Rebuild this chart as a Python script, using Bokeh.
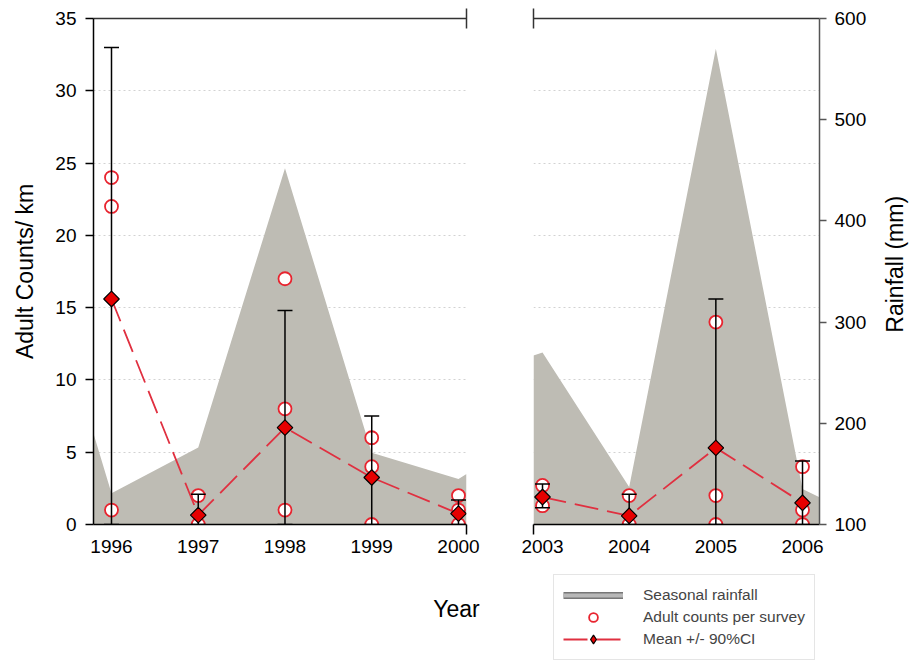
import numpy as np
from bokeh.plotting import figure
from bokeh.models import (Range1d, LinearAxis, FixedTicker, Grid, Legend,
                          LegendItem, Label)
from bokeh.layouts import row, column
from bokeh.embed import file_html
from bokeh.resources import INLINE

# ---------------- data ----------------
count_ticks = [0, 5, 10, 15, 20, 25, 30, 35]
grid_ticks = [5, 10, 15, 20, 25, 30]
rain_ticks = [100, 200, 300, 400, 500, 600]

# period 1 (1996-2000)
years_a = [1996, 1997, 1998, 1999, 2000]
mean_a = [15.6, 0.65, 6.7, 3.25, 0.75]
ci_lo_a = [0, 0, 0, 0, 0]
ci_hi_a = [33.0, 2.1, 14.8, 7.5, 1.7]
survey_year_a = [1996, 1996, 1996, 1997, 1997, 1998, 1998, 1998, 1999, 1999, 1999, 2000, 2000, 2000]
survey_count_a = [24, 22, 1, 2, 0, 17, 8, 1, 6, 4, 0, 2, 1, 0]
rain_year_a = [1995.7925, 1996, 1997, 1998, 1999, 2000, 2000.0925]
rain_mm_a = [190, 131, 176, 452, 171, 145, 150]

# period 2 (2003-2006)
years_b = [2003, 2004, 2005, 2006]
mean_b = [1.9, 0.6, 5.3, 1.5]
ci_lo_b = [1.15, 0, 0, 0]
ci_hi_b = [2.8, 2.1, 15.6, 4.4]
survey_year_b = [2003, 2003, 2004, 2004, 2005, 2005, 2005, 2006, 2006, 2006]
survey_count_b = [2.7, 1.3, 2, 0, 14, 2, 0, 4, 1, 0]
rain_year_b = [2002.896, 2003, 2004, 2005, 2006, 2006.196]
rain_mm_b = [267, 270, 137, 570, 135, 127]

legend_labels = ["Seasonal rainfall", "Adult counts per survey", "Mean +/- 90%CI"]

# ---------------- style ----------------
FONT = "Liberation Sans"
GREY = "#bebcb4"
RED_C = "#e8242f"
RED_L = "#e03040"
RED_D = "#e60000"
TICK_FS = "19px"
LABEL_FS = "23px"
H_TOP = 560
TOP = 18
BOTTOM = 36
CIRC = dict(marker="circle", size=13, fill_color="white", line_color=RED_C, line_width=1.8)
MLINE = dict(line_color=RED_L, line_width=1.8, line_dash="24 9")
DIAM = dict(marker="square", angle=np.pi / 4, size=11, fill_color=RED_D,
            line_color="black", line_width=1.2)
NAN = [np.nan]


def blank(width, height, xr, yr):
    p = figure(width=width, height=height, x_range=Range1d(*xr), y_range=Range1d(*yr),
               output_backend="svg", toolbar_location=None,
               x_axis_location=None, y_axis_location=None,
               min_border_left=0, min_border_right=0,
               min_border_top=0, min_border_bottom=0)
    p.grid.visible = False
    p.outline_line_color = None
    return p


def make_panel(width, xr, bl, br, years, mean, lo, hi, sy, sc, ry, rm, edge):
    p = figure(width=width, height=H_TOP, x_range=Range1d(*xr), y_range=Range1d(0, 35),
               output_backend="svg", toolbar_location=None,
               x_axis_location=None, y_axis_location=None,
               min_border_left=bl, min_border_right=br,
               min_border_top=TOP, min_border_bottom=BOTTOM)
    p.grid.visible = False
    p.outline_line_color = None
    p.background_fill_color = "white"
    p.extra_y_ranges = {"rain": Range1d(100, 600)}
    p.add_layout(Grid(dimension=1, ticker=FixedTicker(ticks=grid_ticks),
                      grid_line_color="#d2d2d2", grid_line_dash="2 3",
                      grid_line_width=1))

    # bottom axis: year labels, single break tick
    xb = LinearAxis(ticker=FixedTicker(ticks=years, minor_ticks=[edge]),
                    major_tick_out=0, major_tick_in=0,
                    minor_tick_out=10, minor_tick_in=0,
                    minor_tick_line_color="black", minor_tick_line_width=1.5,
                    axis_line_color="black", axis_line_width=1.5,
                    major_label_text_font=FONT, major_label_text_font_size=TICK_FS,
                    major_label_text_color="black", major_label_standoff=5)
    p.add_layout(xb, "below")
    # top line with break tick
    xt = LinearAxis(ticker=FixedTicker(ticks=[], minor_ticks=[edge]),
                    major_tick_out=0, major_tick_in=0,
                    minor_tick_out=10, minor_tick_in=10,
                    minor_tick_line_color="#333333", minor_tick_line_width=1.5,
                    axis_line_color="#333333", axis_line_width=1.5,
                    major_label_text_font_size="0px", major_label_standoff=0)
    p.add_layout(xt, "above")

    # rainfall area
    p.varea(x=ry, y1=100, y2=rm, y_range_name="rain", fill_color=GREY, fill_alpha=1)
    # individual surveys
    p.scatter(x=sy, y=sc, **CIRC)
    # error bars
    p.segment(x0=years, y0=lo, x1=years, y1=hi, line_color="black", line_width=1.5)
    p.scatter(x=years + years, y=hi + lo, marker="dash", size=15,
              line_color="black", line_width=1.5)
    # mean line and diamonds
    p.line(x=years, y=mean, **MLINE)
    p.scatter(x=years, y=mean, **DIAM)
    return p


p1 = make_panel(499, (1995.7925, 2000.0925), 93, 33, years_a, mean_a,
                ci_lo_a, ci_hi_a, survey_year_a, survey_count_a,
                rain_year_a, rain_mm_a, 2000.0925 - 1e-6)
p2 = make_panel(370, (2002.896, 2006.196), 34, 50, years_b, mean_b,
                ci_lo_b, ci_hi_b, survey_year_b, survey_count_b,
                rain_year_b, rain_mm_b, 2002.896 + 1e-6)

# left axis
yl = LinearAxis(ticker=FixedTicker(ticks=count_ticks), axis_label="Adult Counts/ km",
                major_tick_out=8, major_tick_in=0, minor_tick_out=0, minor_tick_in=0,
                axis_line_color="black", axis_line_width=1.5,
                major_tick_line_color="black", major_tick_line_width=1.5,
                major_label_text_font=FONT, major_label_text_font_size=TICK_FS,
                major_label_text_color="black", major_label_standoff=9,
                axis_label_text_font=FONT, axis_label_text_font_size=LABEL_FS,
                axis_label_text_font_style="normal", axis_label_text_color="black",
                axis_label_standoff=14)
p1.add_layout(yl, "left")

# right axis (rainfall)
yr = LinearAxis(y_range_name="rain", ticker=FixedTicker(ticks=rain_ticks),
                major_tick_out=7, major_tick_in=0, minor_tick_out=0, minor_tick_in=0,
                axis_line_color="#555555", axis_line_width=1.5,
                major_tick_line_color="#555555", major_tick_line_width=1.5,
                major_label_text_font=FONT, major_label_text_font_size=TICK_FS,
                major_label_text_color="black", major_label_standoff=8)
p2.add_layout(yr, "right")

# narrow strip carrying the right-hand axis title (reads bottom-to-top)
p3 = blank(40, H_TOP, (0, 40), (0, H_TOP))
p3.add_layout(Label(x=25, y=H_TOP - 272, text="Rainfall (mm)", angle=np.pi / 2,
                    text_align="center", text_baseline="middle", text_font=FONT,
                    text_font_size=LABEL_FS, text_color="black"))

# bottom strip: "Year" title and legend
H_BOT = 100
p4 = blank(909, H_BOT, (0, 909), (0, H_BOT))
p4.add_layout(Label(x=456, y=H_BOT - 48, text="Year", text_align="center",
                    text_baseline="middle", text_font=FONT, text_font_size=LABEL_FS,
                    text_color="black"))
rd = p4.line(x=NAN, y=NAN, line_color="#777777", line_width=7)
rl = p4.line(x=NAN, y=NAN, line_color="#b8b8b8", line_width=4)
lc = p4.scatter(x=NAN, y=NAN, **CIRC)
lm = p4.line(x=NAN, y=NAN, **MLINE)
ld = p4.scatter(x=NAN, y=NAN, marker="diamond", size=11, fill_color=RED_D,
                line_color="black", line_width=1.2)
legend = Legend(items=[LegendItem(label=legend_labels[0], renderers=[rd, rl]),
                       LegendItem(label=legend_labels[1], renderers=[lc]),
                       LegendItem(label=legend_labels[2], renderers=[lm, ld])],
                location=(553, 0), glyph_width=60, glyph_height=22, label_height=22,
                spacing=0, padding=9, margin=0, label_standoff=20,
                label_text_font=FONT, label_text_font_size="15.5px",
                border_line_color="#cccccc", border_line_width=1,
                background_fill_color="white", background_fill_alpha=1)
p4.add_layout(legend, "center")

layout = column(row(p1, p2, p3), p4)
open("out.html", "w").write(file_html(layout, INLINE))
